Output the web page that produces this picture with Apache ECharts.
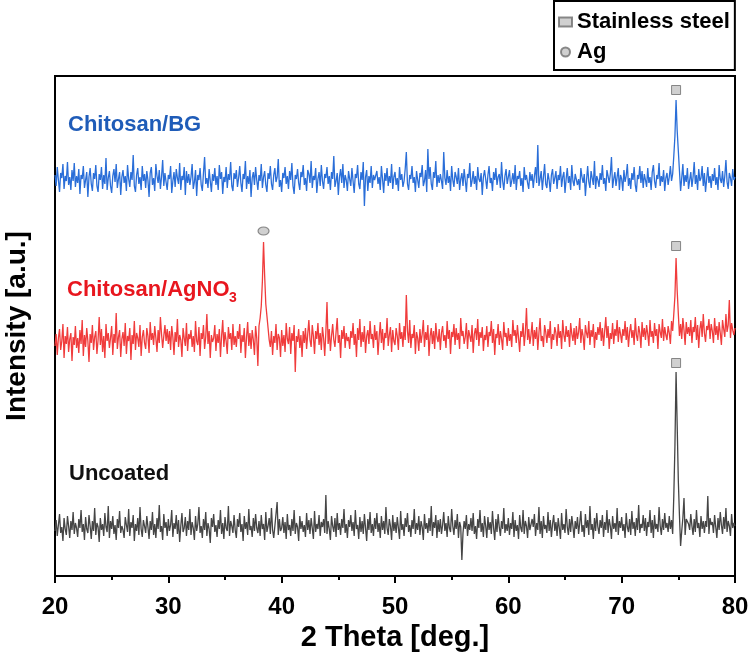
<!DOCTYPE html>
<html><head><meta charset="utf-8">
<script src="https://cdn.jsdelivr.net/npm/echarts@6/dist/echarts.min.js"></script>
<style>html,body{margin:0;padding:0;background:#fff}#c{width:750px;height:656px}</style>
</head><body><div id="c"></div>
<script>
// 2θ scan: 20.0° to 80.0°, step 0.1°
const angleStart = 20;
const angleStep = 0.1;
const xTicks = [20, 30, 40, 50, 60, 70, 80];
const traceNames = ['Chitosan/BG', 'Chitosan/AgNO3', 'Uncoated'];

// Intensity (a.u., offset stacked)
const bgIntensity = [
401,390,409,396,384,403,398,412,387,400,395,414,391,399,386,406,395,413,389,400,
393,407,382,401,397,410,388,396,404,379,399,408,392,385,403,397,411,390,384,402,
396,409,387,401,392,418,386,398,405,390,383,400,407,394,412,388,397,404,381,399,
406,393,400,385,411,397,389,404,396,421,390,384,401,408,392,399,386,410,395,402,
388,405,396,379,403,409,391,398,385,412,400,393,406,387,399,416,390,403,394,386,
401,397,410,383,395,404,389,407,398,392,413,386,400,396,409,381,405,393,402,391,
399,412,387,394,406,380,401,396,408,391,385,403,419,392,398,388,407,395,384,402,
395,408,391,400,386,411,397,404,382,399,394,409,388,402,396,414,390,385,403,397,
406,389,398,410,393,384,402,397,415,387,400,392,406,379,398,404,391,409,396,386,
401,395,412,388,399,405,391,384,403,397,410,392,386,401,408,394,399,417,389,396,
384,403,398,409,392,400,387,405,396,413,390,382,401,397,407,393,386,404,399,411,
391,398,385,406,402,393,415,388,400,396,408,383,397,404,390,411,395,387,402,398,
409,392,400,386,404,397,420,389,395,403,381,399,407,393,412,388,401,396,385,405,
397,390,408,395,383,402,398,411,392,387,404,396,414,370,399,406,385,400,393,410,
388,401,396,394,405,392,399,386,410,397,383,403,395,408,390,400,393,412,387,399,
404,391,398,385,409,396,402,389,395,407,424,392,386,401,397,410,393,399,384,405,
396,388,403,399,411,390,395,406,384,427,397,409,392,386,404,398,415,389,401,393,
402,395,387,424,398,391,406,393,400,385,410,396,389,404,399,392,408,386,397,403,
390,407,396,384,402,398,413,389,395,405,392,400,386,409,397,394,403,381,399,406,
397,387,401,410,393,398,385,404,396,408,391,399,402,388,414,395,386,400,407,392,
399,406,389,395,403,392,411,386,400,397,405,390,398,384,409,396,401,393,387,404,
395,402,388,400,409,393,431,390,397,405,386,399,412,392,388,403,396,384,401,407,
392,398,405,387,401,396,410,389,399,404,383,397,408,393,400,386,411,395,390,402,
404,391,397,386,408,399,393,402,380,396,410,394,388,405,398,391,415,387,400,396,
389,403,396,411,392,398,385,406,400,393,402,419,388,397,404,390,399,408,386,401,
397,385,406,394,400,412,390,398,387,403,396,409,391,384,401,397,410,393,405,388,
402,396,389,408,393,399,386,404,411,395,388,401,397,413,390,400,394,406,385,398,
403,391,399,410,395,402,420,440,476,445,425,405,385,398,412,390,401,394,408,387,
396,404,389,399,414,392,401,386,407,395,398,410,390,403,384,397,409,393,400,388,
402,395,408,391,399,386,411,397,393,405,389,400,416,394,387,403,398,390,407,396,
399];

const agIntensity = [
230,242,221,238,247,226,235,252,218,240,232,249,224,237,243,215,239,231,250,228,
238,223,246,232,256,220,241,229,248,235,214,242,233,251,226,239,245,222,236,259,
231,247,224,240,218,252,235,243,228,238,250,221,242,233,263,227,239,246,219,237,
244,230,253,222,240,235,248,216,241,232,255,226,243,238,229,251,220,239,246,233,
227,248,240,223,254,236,243,231,250,238,224,246,233,259,242,228,240,251,235,247,
232,245,226,250,239,221,244,234,257,229,241,236,219,248,238,230,253,225,242,237,
246,229,240,224,255,235,231,249,220,243,237,251,227,239,262,232,245,218,241,234,
238,251,225,242,233,247,219,240,256,229,244,235,222,249,237,243,226,252,231,240,
229,245,237,252,223,241,234,248,218,239,254,230,243,227,246,236,221,250,238,210,
250,258,270,295,334,300,272,260,248,236,229,245,221,240,233,252,226,242,238,219,
246,230,241,224,253,237,232,249,222,243,235,251,204,240,234,247,228,241,219,245,
233,248,227,242,256,236,229,251,240,222,245,237,253,231,243,226,249,238,220,244,
274,232,247,225,240,252,236,229,244,258,233,241,218,246,237,250,228,243,235,239,
227,245,238,253,231,242,219,248,236,257,229,244,234,250,223,240,246,232,255,237,
242,228,251,236,245,221,239,254,233,247,226,243,238,258,230,241,249,224,246,235,
231,248,240,226,253,237,244,229,250,236,281,245,233,256,228,242,238,251,222,244,
238,225,247,233,242,256,229,244,236,251,220,240,248,232,245,227,253,239,234,247,
226,243,250,235,241,228,255,237,246,222,244,239,252,231,248,236,243,227,258,240,
245,232,239,253,227,246,240,234,251,223,242,248,236,257,230,244,238,249,225,241,
236,250,229,244,240,255,233,247,221,242,238,252,231,245,237,226,254,239,243,230,
248,235,242,229,256,240,246,233,251,238,224,245,239,253,230,243,268,236,247,232,
241,254,230,246,237,249,226,243,258,235,240,229,251,244,233,247,238,255,227,242,
236,249,243,230,252,238,245,227,256,241,234,250,239,246,229,253,242,235,248,231,
250,237,244,258,233,247,240,226,251,243,238,255,231,246,239,252,228,244,236,249,
241,254,235,248,230,245,259,238,250,227,243,237,253,232,247,240,256,234,249,242,
233,247,240,255,236,249,229,244,252,238,246,231,258,241,235,250,243,228,254,239,
248,236,251,242,230,256,239,245,233,253,240,247,227,252,244,238,257,235,249,241,
236,250,243,232,255,245,262,280,318,285,262,240,252,237,258,246,231,254,242,249,
240,256,233,249,244,259,236,251,228,247,255,239,262,243,234,250,246,257,237,252,
245,233,258,241,250,236,254,243,231,256,247,239,262,244,251,276,238,253,246,241,
248];

const uncoatedIntensity = [
45,56,40,51,62,43,49,35,58,47,41,60,50,38,55,46,64,42,53,48,
39,57,48,66,44,52,36,59,47,43,61,50,37,55,45,68,41,53,49,34,
58,46,52,40,63,49,44,70,38,55,47,60,42,51,36,57,48,65,43,50,
46,38,59,51,44,67,40,54,48,61,35,52,45,58,41,69,47,39,56,50,
43,60,49,37,55,46,64,41,52,38,58,47,71,44,50,36,62,48,54,40,
57,45,51,66,39,53,47,61,42,56,34,50,63,44,48,59,40,55,46,67,
41,54,48,36,60,45,52,69,43,50,38,57,46,64,40,53,47,33,58,49,
62,44,51,39,56,47,66,42,53,37,59,48,45,70,40,55,50,43,61,46,
38,57,49,63,44,52,35,60,47,54,41,67,46,50,39,58,45,62,48,43,
55,40,61,47,52,36,64,44,50,58,42,68,46,38,50,49,74,41,57,45,
48,59,43,54,37,62,46,51,40,57,45,66,42,53,49,35,60,47,55,44,
51,39,63,46,56,42,58,48,37,65,44,52,47,61,40,54,49,57,43,81,
42,55,47,36,60,50,44,58,39,63,46,53,41,57,48,67,43,52,38,56,
49,61,45,54,40,66,47,51,37,59,44,55,42,62,48,35,57,46,64,43,
52,40,58,47,63,44,53,38,60,46,55,42,69,48,41,57,50,36,61,45,
54,43,59,48,37,65,46,52,40,58,49,63,44,51,39,56,47,67,42,53,
46,60,41,55,49,36,62,47,53,43,58,45,70,40,54,48,61,38,56,44,
57,42,51,64,45,53,39,60,48,44,67,50,41,56,47,62,38,54,49,16,
43,55,47,61,40,52,46,58,45,63,42,50,37,57,48,66,44,53,39,60,
50,38,59,46,54,42,65,48,36,57,44,62,49,40,55,47,68,43,52,45,
58,41,53,47,64,39,56,45,51,37,61,48,44,66,42,55,50,38,59,46,
44,57,49,62,40,53,46,69,42,55,38,60,47,51,43,64,45,56,39,52,
61,45,54,40,58,48,37,63,46,52,43,67,49,41,57,44,60,50,38,55,
47,59,42,53,65,44,51,39,62,48,56,41,70,46,52,37,58,45,63,49,
42,56,48,61,39,54,46,66,43,57,50,37,60,47,53,44,68,41,55,48,
59,45,52,38,63,49,44,57,41,65,47,54,40,58,46,71,43,52,48,61,
45,58,40,54,49,66,43,56,38,61,47,52,44,69,50,41,57,46,63,48,
53,44,60,47,56,42,80,130,204,150,95,60,30,45,58,78,41,57,55,52,
46,62,50,41,57,44,66,48,53,39,60,47,55,43,55,49,80,42,58,51,
54,43,61,49,38,58,46,64,51,42,59,47,68,44,55,50,40,62,48,53,
50];

// Phase markers [2θ, intensity]
const steelMarks = [[74.8, 486], [74.8, 330], [74.8, 213]];
const agMarks = [[38.4, 345]];

const twoTheta = bgIntensity.map((_, i) => +(angleStart + i * angleStep).toFixed(1));
const pairs = arr => arr.map((v, i) => [twoTheta[i], v]);

const FONT = '"Liberation Sans", Arial, sans-serif';
const chart = echarts.init(document.getElementById('c'), null, {renderer: 'canvas'});

chart.setOption({
  animation: false,
  backgroundColor: '#fff',
  grid: {left: 55, right: 15, top: 76, bottom: 80, outerBoundsMode: 'none', containLabel: false,
         show: true, borderColor: '#000', borderWidth: 2, backgroundColor: 'transparent'},
  xAxis: {
    type: 'value', min: xTicks[0], max: xTicks[xTicks.length - 1], interval: 10,
    name: '2 Theta [deg.]', nameLocation: 'middle', nameGap: 38,
    nameTextStyle: {fontFamily: FONT, fontWeight: 'bold', fontSize: 29, color: '#000'},
    axisLine: {show: true, lineStyle: {color: '#000', width: 2}},
    axisTick: {show: true, inside: false, length: 7, lineStyle: {color: '#000', width: 2}},
    minorTick: {show: true, splitNumber: 2, length: 4, lineStyle: {color: '#000', width: 2}},
    axisLabel: {fontFamily: FONT, fontWeight: 'bold', fontSize: 24, color: '#000', margin: 19},
    splitLine: {show: false}
  },
  yAxis: {
    type: 'value', min: 0, max: 500,
    name: 'Intensity [a.u.]', nameLocation: 'middle', nameGap: 24, nameRotate: 90,
    nameTextStyle: {fontFamily: FONT, fontWeight: 'bold', fontSize: 28, color: '#000'},
    axisLine: {show: true, lineStyle: {color: '#000', width: 2}},
    axisTick: {show: false}, axisLabel: {show: false}, splitLine: {show: false}
  },
  legend: {
    data: ['Stainless steel', 'Ag'], orient: 'vertical', left: 554, top: 1,
    borderColor: '#000', borderWidth: 2, padding: [9, 5, 6, 4], itemGap: 6,
    itemWidth: 13, itemHeight: 9,
    textStyle: {fontFamily: FONT, fontWeight: 'bold', fontSize: 22, color: '#000', lineHeight: 24}
  },
  series: [
    {name: traceNames[0], type: 'line', data: pairs(bgIntensity), showSymbol: false, lineStyle: {color: '#2a6ed8', width: 1.3}, itemStyle: {color: '#2a6ed8'}, z: 2},
    {name: traceNames[1], type: 'line', data: pairs(agIntensity), showSymbol: false, lineStyle: {color: '#f03c3c', width: 1.3}, itemStyle: {color: '#f03c3c'}, z: 2},
    {name: traceNames[2], type: 'line', data: pairs(uncoatedIntensity), showSymbol: false, lineStyle: {color: '#454545', width: 1.3}, itemStyle: {color: '#454545'}, z: 2},
    {name: 'Stainless steel', type: 'scatter', data: steelMarks, symbol: 'rect', symbolSize: 9, itemStyle: {color: '#c4c4c4', borderColor: '#6e6e6e', borderWidth: 1}, z: 5},
    {name: 'Ag', type: 'scatter', data: agMarks, symbol: 'circle', symbolSize: [11, 8], itemStyle: {color: '#c4c4c4', borderColor: '#6e6e6e', borderWidth: 1}, z: 5}
  ],
  graphic: [
    {type: 'text', left: 68, top: 114, style: {text: 'Chitosan/BG', font: 'bold 22px ' + FONT, fill: '#1f5cb8'}},
    {type: 'text', left: 67, top: 279, style: {text: 'Chitosan/AgNO', font: 'bold 22px ' + FONT, fill: '#e8161e'}},
    {type: 'text', left: 229, top: 291, style: {text: '3', font: 'bold 14px ' + FONT, fill: '#e8161e'}},
    {type: 'text', left: 69, top: 463, style: {text: 'Uncoated', font: 'bold 22px ' + FONT, fill: '#111'}}
  ]
});
</script></body></html>
